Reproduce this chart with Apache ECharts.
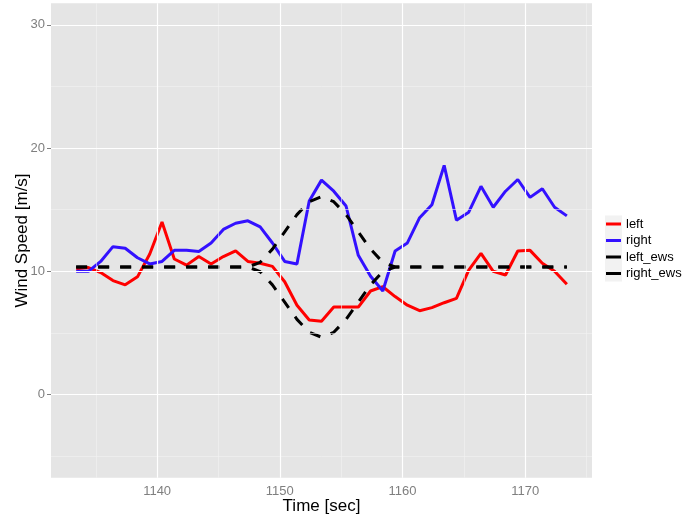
<!DOCTYPE html>
<html>
<head>
<meta charset="utf-8">
<script src="https://cdn.jsdelivr.net/npm/echarts@6/dist/echarts.min.js"></script>
<style>html,body{margin:0;padding:0;background:#fff}#c{width:683px;height:518px}</style>
</head>
<body>
<div id="c"></div>
<script>
// Time samples (sec)
const time = [1133.4,1134.4,1135.4,1136.4,1137.4,1138.4,1139.4,1140.4,1141.4,1142.4,
  1143.4,1144.4,1145.4,1146.4,1147.4,1148.4,1149.4,1150.4,1151.4,1152.4,
  1153.4,1154.4,1155.4,1156.4,1157.4,1158.4,1159.4,1160.4,1161.4,1162.4,
  1163.4,1164.4,1165.4,1166.4,1167.4,1168.4,1169.4,1170.4,1171.4,1172.4,1173.4];
const left = [10.2,10.3,9.9,9.25,8.9,9.55,11.4,14.0,11.0,10.5,
  11.2,10.6,11.2,11.65,10.8,10.65,10.4,9.15,7.25,6.05,
  5.95,7.1,7.1,7.1,8.4,8.75,7.95,7.25,6.8,7.05,
  7.45,7.8,10.1,11.45,10.0,9.7,11.65,11.7,10.65,10.0,8.95];
const right = [10.0,10.0,10.8,12.0,11.87,11.1,10.6,10.8,11.7,11.7,
  11.6,12.3,13.4,13.9,14.1,13.6,12.3,10.8,10.6,15.7,
  17.4,16.5,15.3,11.3,9.6,8.4,11.65,12.3,14.35,15.4,
  18.6,14.15,14.8,16.9,15.2,16.5,17.45,16.0,16.7,15.2,14.5];
const leftEws = [10.35,10.35,10.35,10.35,10.35,10.35,10.35,10.35,10.35,10.35,
  10.35,10.35,10.35,10.35,10.35,9.97,8.9,7.5,6.1,5.05,
  4.65,5.05,6.1,7.5,8.9,9.97,10.35,10.35,10.35,10.35,
  10.35,10.35,10.35,10.35,10.35,10.35,10.35,10.35,10.35,10.35,10.35];
const rightEws = [10.35,10.35,10.35,10.35,10.35,10.35,10.35,10.35,10.35,10.35,
  10.35,10.35,10.35,10.35,10.35,10.73,11.8,13.2,14.6,15.65,
  16.05,15.65,14.6,13.2,11.8,10.73,10.35,10.35,10.35,10.35,
  10.35,10.35,10.35,10.35,10.35,10.35,10.35,10.35,10.35,10.35,10.35];
const xTicks = [1140,1150,1160,1170];
const xMinor = [1135,1145,1155,1165,1175];
const yTicks = [0,10,20,30];
const yMinor = [-5,5,15,25];
const seriesNames = ['left','right','left_ews','right_ews'];

const pair = (ys) => time.map((t,i)=>[t,ys[i]]);
const FONT = '"Liberation Sans", Arial, sans-serif';

const gridLines = [];
xMinor.forEach(v=>gridLines.push({xAxis:v,lineStyle:{color:'#F2F2F2',width:0.6,type:'solid'}}));
yMinor.forEach(v=>gridLines.push({yAxis:v,lineStyle:{color:'#F2F2F2',width:0.6,type:'solid'}}));
xTicks.forEach(v=>gridLines.push({xAxis:v,lineStyle:{color:'#FFFFFF',width:1.2,type:'solid'}}));
yTicks.forEach(v=>gridLines.push({yAxis:v,lineStyle:{color:'#FFFFFF',width:1.2,type:'solid'}}));

const chart = echarts.init(document.getElementById('c'), null, {renderer:'canvas'});
chart.setOption({
  animation:false,
  backgroundColor:'#ffffff',
  grid:{left:51,right:91,top:3.3,bottom:40.3,show:true,backgroundColor:'#E5E5E5',borderWidth:0,
    outerBoundsMode:'none',containLabel:false},
  xAxis:{type:'value',min:1131.35,max:1175.45,
    name:'Time [sec]',nameLocation:'middle',nameGap:20,nameMoveOverlap:false,
    nameTextStyle:{fontFamily:FONT,fontSize:17,color:'#000'},
    axisLine:{show:false},
    axisTick:{show:true,length:4,lineStyle:{color:'#7F7F7F'},customValues:xTicks},
    axisLabel:{margin:7,color:'#7F7F7F',fontFamily:FONT,fontSize:13,customValues:xTicks,
      formatter:(v)=>String(v)},
    splitLine:{show:false}},
  yAxis:{type:'value',min:-6.75,max:31.75,
    name:'Wind Speed [m/s]',nameLocation:'middle',nameGap:20.5,nameMoveOverlap:false,
    nameTextStyle:{fontFamily:FONT,fontSize:17,color:'#000'},
    axisLine:{show:false},
    axisTick:{show:true,length:4,lineStyle:{color:'#7F7F7F'},customValues:yTicks},
    axisLabel:{margin:6,color:'#7F7F7F',fontFamily:FONT,fontSize:13,customValues:yTicks,
      formatter:(v)=>String(v)},
    splitLine:{show:false}},
  legend:{orient:'vertical',left:606,top:216,padding:0,itemWidth:15,itemHeight:3,itemGap:0.5,
    icon:'rect',
    itemStyle:{borderWidth:0},
    textStyle:{fontFamily:FONT,fontSize:13,color:'#000',lineHeight:16},
    data:seriesNames.map(n=>({name:n}))},
  graphic:[{type:'rect',left:605,top:215.5,z:-1,shape:{width:17,height:66},style:{fill:'#F2F2F2'}}],
  series:[
    {name:'_grid',type:'line',data:[],silent:true,z:0,
      markLine:{silent:true,symbol:'none',label:{show:false},animation:false,data:gridLines}},
    {name:'left',type:'line',data:pair(left),showSymbol:false,symbol:'none',z:2,
      lineStyle:{color:'#FF0000',width:3},itemStyle:{color:'#FF0000'}},
    {name:'right',type:'line',data:pair(right),showSymbol:false,symbol:'none',z:2,
      lineStyle:{color:'#3311FF',width:3},itemStyle:{color:'#3311FF'}},
    {name:'left_ews',type:'line',data:pair(leftEws),showSymbol:false,symbol:'none',z:3,
      lineStyle:{color:'#000000',width:3,type:[11,11]},itemStyle:{color:'#000000'}},
    {name:'right_ews',type:'line',data:pair(rightEws),showSymbol:false,symbol:'none',z:3,
      lineStyle:{color:'#000000',width:3,type:[11,11]},itemStyle:{color:'#000000'}}
  ]
});
</script>
</body>
</html>
